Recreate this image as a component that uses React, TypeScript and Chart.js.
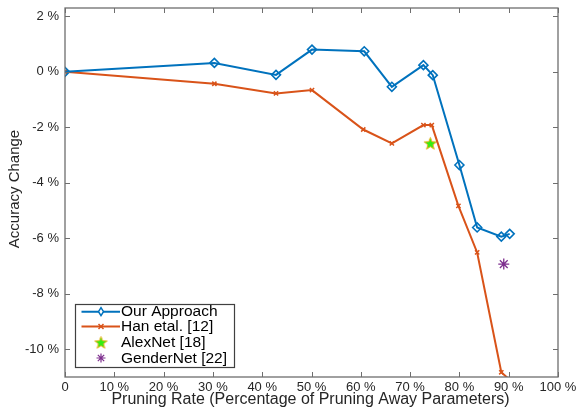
import React, { useEffect, useRef } from "react";
import { Chart, registerables } from "chart.js";

Chart.register(...registerables);

const ourX = [0, 30.3, 42.8, 50.1, 60.7, 66.3, 72.7, 74.6, 80.0, 83.6, 88.5, 90.2];
const ourY = [0, 0.32, -0.11, 0.8, 0.74, -0.54, 0.24, -0.12, -3.36, -5.61, -5.94, -5.84];
const hanX = [0, 30.3, 42.8, 50.1, 60.5, 66.3, 72.7, 74.4, 79.8, 83.6, 88.5, 90.2];
const hanY = [0, -0.43, -0.78, -0.66, -2.08, -2.58, -1.92, -1.92, -4.83, -6.51, -10.83, -11.1];
const alexX = [74.1];
const alexY = [-2.58];
const genderX = [89.0];
const genderY = [-6.93];
const xTicks = [0, 10, 20, 30, 40, 50, 60, 70, 80, 90, 100];
const yTicks = [-10, -8, -6, -4, -2, 0, 2];
const seriesNames = ["Our Approach", "Han etal. [12]", "AlexNet [18]", "GenderNet [22]"];

const BLUE = "#0072BD";
const RED = "#D95319";
const PURPLE = "#7E2F8E";
const FONT = "'Liberation Sans', Arial, Helvetica, sans-serif";
const TXT = "#262626";
const AXIS = "#6e6e6e";

function makeStar(size: number) {
  const c = document.createElement("canvas");
  c.width = size;
  c.height = size;
  const g = c.getContext("2d")!;
  const cx = size / 2, cy = size / 2 + 0.5;
  const R = size / 2 - 1, r = R * 0.42;
  g.beginPath();
  for (let i = 0; i < 10; i++) {
    const rad = i % 2 === 0 ? R : r;
    const a = -Math.PI / 2 + (i * Math.PI) / 5;
    const px = cx + rad * Math.cos(a), py = cy + rad * Math.sin(a);
    if (i === 0) g.moveTo(px, py); else g.lineTo(px, py);
  }
  g.closePath();
  g.fillStyle = "#33ee11";
  g.fill();
  g.strokeStyle = "#EDB120";
  g.lineWidth = 1;
  g.stroke();
  return c;
}

const zip = (xs: number[], ys: number[]) => xs.map((x, i) => ({ x, y: ys[i] }));

export default function App() {
  const ref = useRef<HTMLCanvasElement>(null);
  useEffect(() => {
    const star = makeStar(15);
    const decor = {
      id: "decor",
      afterDraw(chart: any) {
        const { ctx, chartArea: a, scales } = chart;
        const xs = scales.x, ys = scales.y;
        ctx.save();
        // box
        ctx.strokeStyle = AXIS;
        ctx.lineWidth = 1.3;
        ctx.strokeRect(a.left, a.top, a.right - a.left, a.bottom - a.top);
        // inward ticks
        const tl = 5;
        ctx.lineWidth = 1;
        ctx.beginPath();
        xTicks.forEach((v) => {
          const px = Math.round(xs.getPixelForValue(v)) + 0.5;
          ctx.moveTo(px, a.bottom); ctx.lineTo(px, a.bottom - tl);
          ctx.moveTo(px, a.top); ctx.lineTo(px, a.top + tl);
        });
        yTicks.forEach((v) => {
          const py = Math.round(ys.getPixelForValue(v)) + 0.5;
          ctx.moveTo(a.left, py); ctx.lineTo(a.left + tl, py);
          ctx.moveTo(a.right, py); ctx.lineTo(a.right - tl, py);
        });
        ctx.stroke();
        // titles
        ctx.fillStyle = TXT;
        ctx.font = `16px ${FONT}`;
        ctx.textAlign = "center";
        ctx.textBaseline = "middle";
        ctx.fillText("Pruning Rate (Percentage of Pruning Away Parameters)", (a.left + a.right) / 2 - 1, 400);
        ctx.font = `15px ${FONT}`;
        ctx.save();
        ctx.translate(15, 189);
        ctx.rotate(-Math.PI / 2);
        ctx.fillText("Accuracy Change", 0, 0);
        ctx.restore();
        // legend
        const lx = 75, ly = 304, lw = 159, lh = 63;
        ctx.fillStyle = "#ffffff";
        ctx.fillRect(lx, ly, lw, lh);
        ctx.strokeStyle = "#404040";
        ctx.lineWidth = 1.2;
        ctx.strokeRect(lx + 0.5, ly + 0.5, lw, lh);
        const rows = [311.7, 326.5, 342.5, 358];
        const sx0 = 81.5, sx1 = 120, mx = 101;
        // row 1
        ctx.strokeStyle = BLUE; ctx.lineWidth = 2;
        ctx.beginPath(); ctx.moveTo(sx0, rows[0]); ctx.lineTo(sx1, rows[0]); ctx.stroke();
        ctx.lineWidth = 1.5;
        ctx.beginPath();
        ctx.moveTo(mx, rows[0] - 4); ctx.lineTo(mx + 2.5, rows[0]); ctx.lineTo(mx, rows[0] + 4); ctx.lineTo(mx - 2.5, rows[0]); ctx.closePath();
        ctx.fillStyle = "#fff"; ctx.fill(); ctx.stroke();
        // row 2
        ctx.strokeStyle = RED; ctx.lineWidth = 2;
        ctx.beginPath(); ctx.moveTo(sx0, rows[1]); ctx.lineTo(sx1, rows[1]); ctx.stroke();
        ctx.lineWidth = 1.5;
        ctx.beginPath();
        ctx.moveTo(mx - 2.5, rows[1] - 2.5); ctx.lineTo(mx + 2.5, rows[1] + 2.5);
        ctx.moveTo(mx + 2.5, rows[1] - 2.5); ctx.lineTo(mx - 2.5, rows[1] + 2.5);
        ctx.stroke();
        // row 3 star
        ctx.drawImage(star, mx - 7.5, rows[2] - 7.5);
        // row 4 asterisk
        ctx.strokeStyle = PURPLE; ctx.lineWidth = 1.2;
        ctx.beginPath();
        const r4 = 4.5;
        for (let i = 0; i < 4; i++) {
          const ang = (i * Math.PI) / 4;
          ctx.moveTo(mx - r4 * Math.cos(ang), rows[3] - r4 * Math.sin(ang));
          ctx.lineTo(mx + r4 * Math.cos(ang), rows[3] + r4 * Math.sin(ang));
        }
        ctx.stroke();
        ctx.fillStyle = "#000";
        ctx.font = `15.5px ${FONT}`;
        ctx.textAlign = "left";
        ctx.textBaseline = "middle";
        seriesNames.forEach((n, i) => ctx.fillText(n, 121, rows[i] + 0.5));
        ctx.restore();
      },
    };

    const chart = new Chart(ref.current!, {
      type: "scatter",
      data: {
        datasets: [
          {
            label: seriesNames[0],
            data: zip(ourX, ourY),
            showLine: true,
            borderColor: BLUE,
            borderWidth: 2,
            pointStyle: "rectRot",
            pointRadius: 4.5,
            pointBackgroundColor: "rgba(255,255,255,0)",
            pointBorderColor: BLUE,
            pointBorderWidth: 1.6,
          },
          {
            label: seriesNames[1],
            data: zip(hanX, hanY),
            showLine: true,
            borderColor: RED,
            borderWidth: 2,
            pointStyle: "crossRot",
            pointRadius: 3,
            pointBorderColor: RED,
            pointBorderWidth: 1.5,
          },
          {
            label: seriesNames[2],
            data: zip(alexX, alexY),
            pointStyle: star as any,
            pointRadius: 7,
          },
          {
            label: seriesNames[3],
            data: zip(genderX, genderY),
            pointStyle: "star",
            pointRadius: 5.5,
            pointBorderColor: PURPLE,
            pointBorderWidth: 1.3,
          },
        ],
      },
      options: {
        animation: false,
        responsive: false,
        maintainAspectRatio: false,
        layout: { padding: { top: 8, right: 20, left: 0, bottom: 0 } },
        plugins: { legend: { display: false }, tooltip: { enabled: false } },
        scales: {
          x: {
            type: "linear",
            min: 0,
            max: 100,
            grid: { display: false, drawTicks: false },
            border: { display: false },
            afterBuildTicks: (s: any) => { s.ticks = xTicks.map((v) => ({ value: v })); },
            afterFit: (s: any) => { s.height = 30; s.paddingLeft = 0; s.paddingRight = 0; },
            ticks: {
              padding: 3,
              color: TXT,
              font: { family: FONT, size: 13 },
              maxRotation: 0,
              autoSkip: false,
              callback: (v: any) => (v === 0 ? "0" : `${v} %`),
            },
          },
          y: {
            type: "linear",
            min: -11,
            max: 2.3,
            grid: { display: false, drawTicks: false },
            border: { display: false },
            afterBuildTicks: (s: any) => { s.ticks = yTicks.map((v) => ({ value: v })); },
            afterFit: (s: any) => { s.width = 65; s.paddingTop = 0; s.paddingBottom = 0; },
            ticks: {
              padding: 6,
              color: TXT,
              font: { family: FONT, size: 13 },
              autoSkip: false,
              callback: (v: any) => `${v} %`,
            },
          },
        },
      },
      plugins: [decor],
    });
    return () => chart.destroy();
  }, []);
  return (
    <div style={{ position: "fixed", left: 0, top: 0, width: 578, height: 407, background: "#fff" }}>
      <canvas ref={ref} width={578} height={407} style={{ display: "block" }} />
    </div>
  );
}
